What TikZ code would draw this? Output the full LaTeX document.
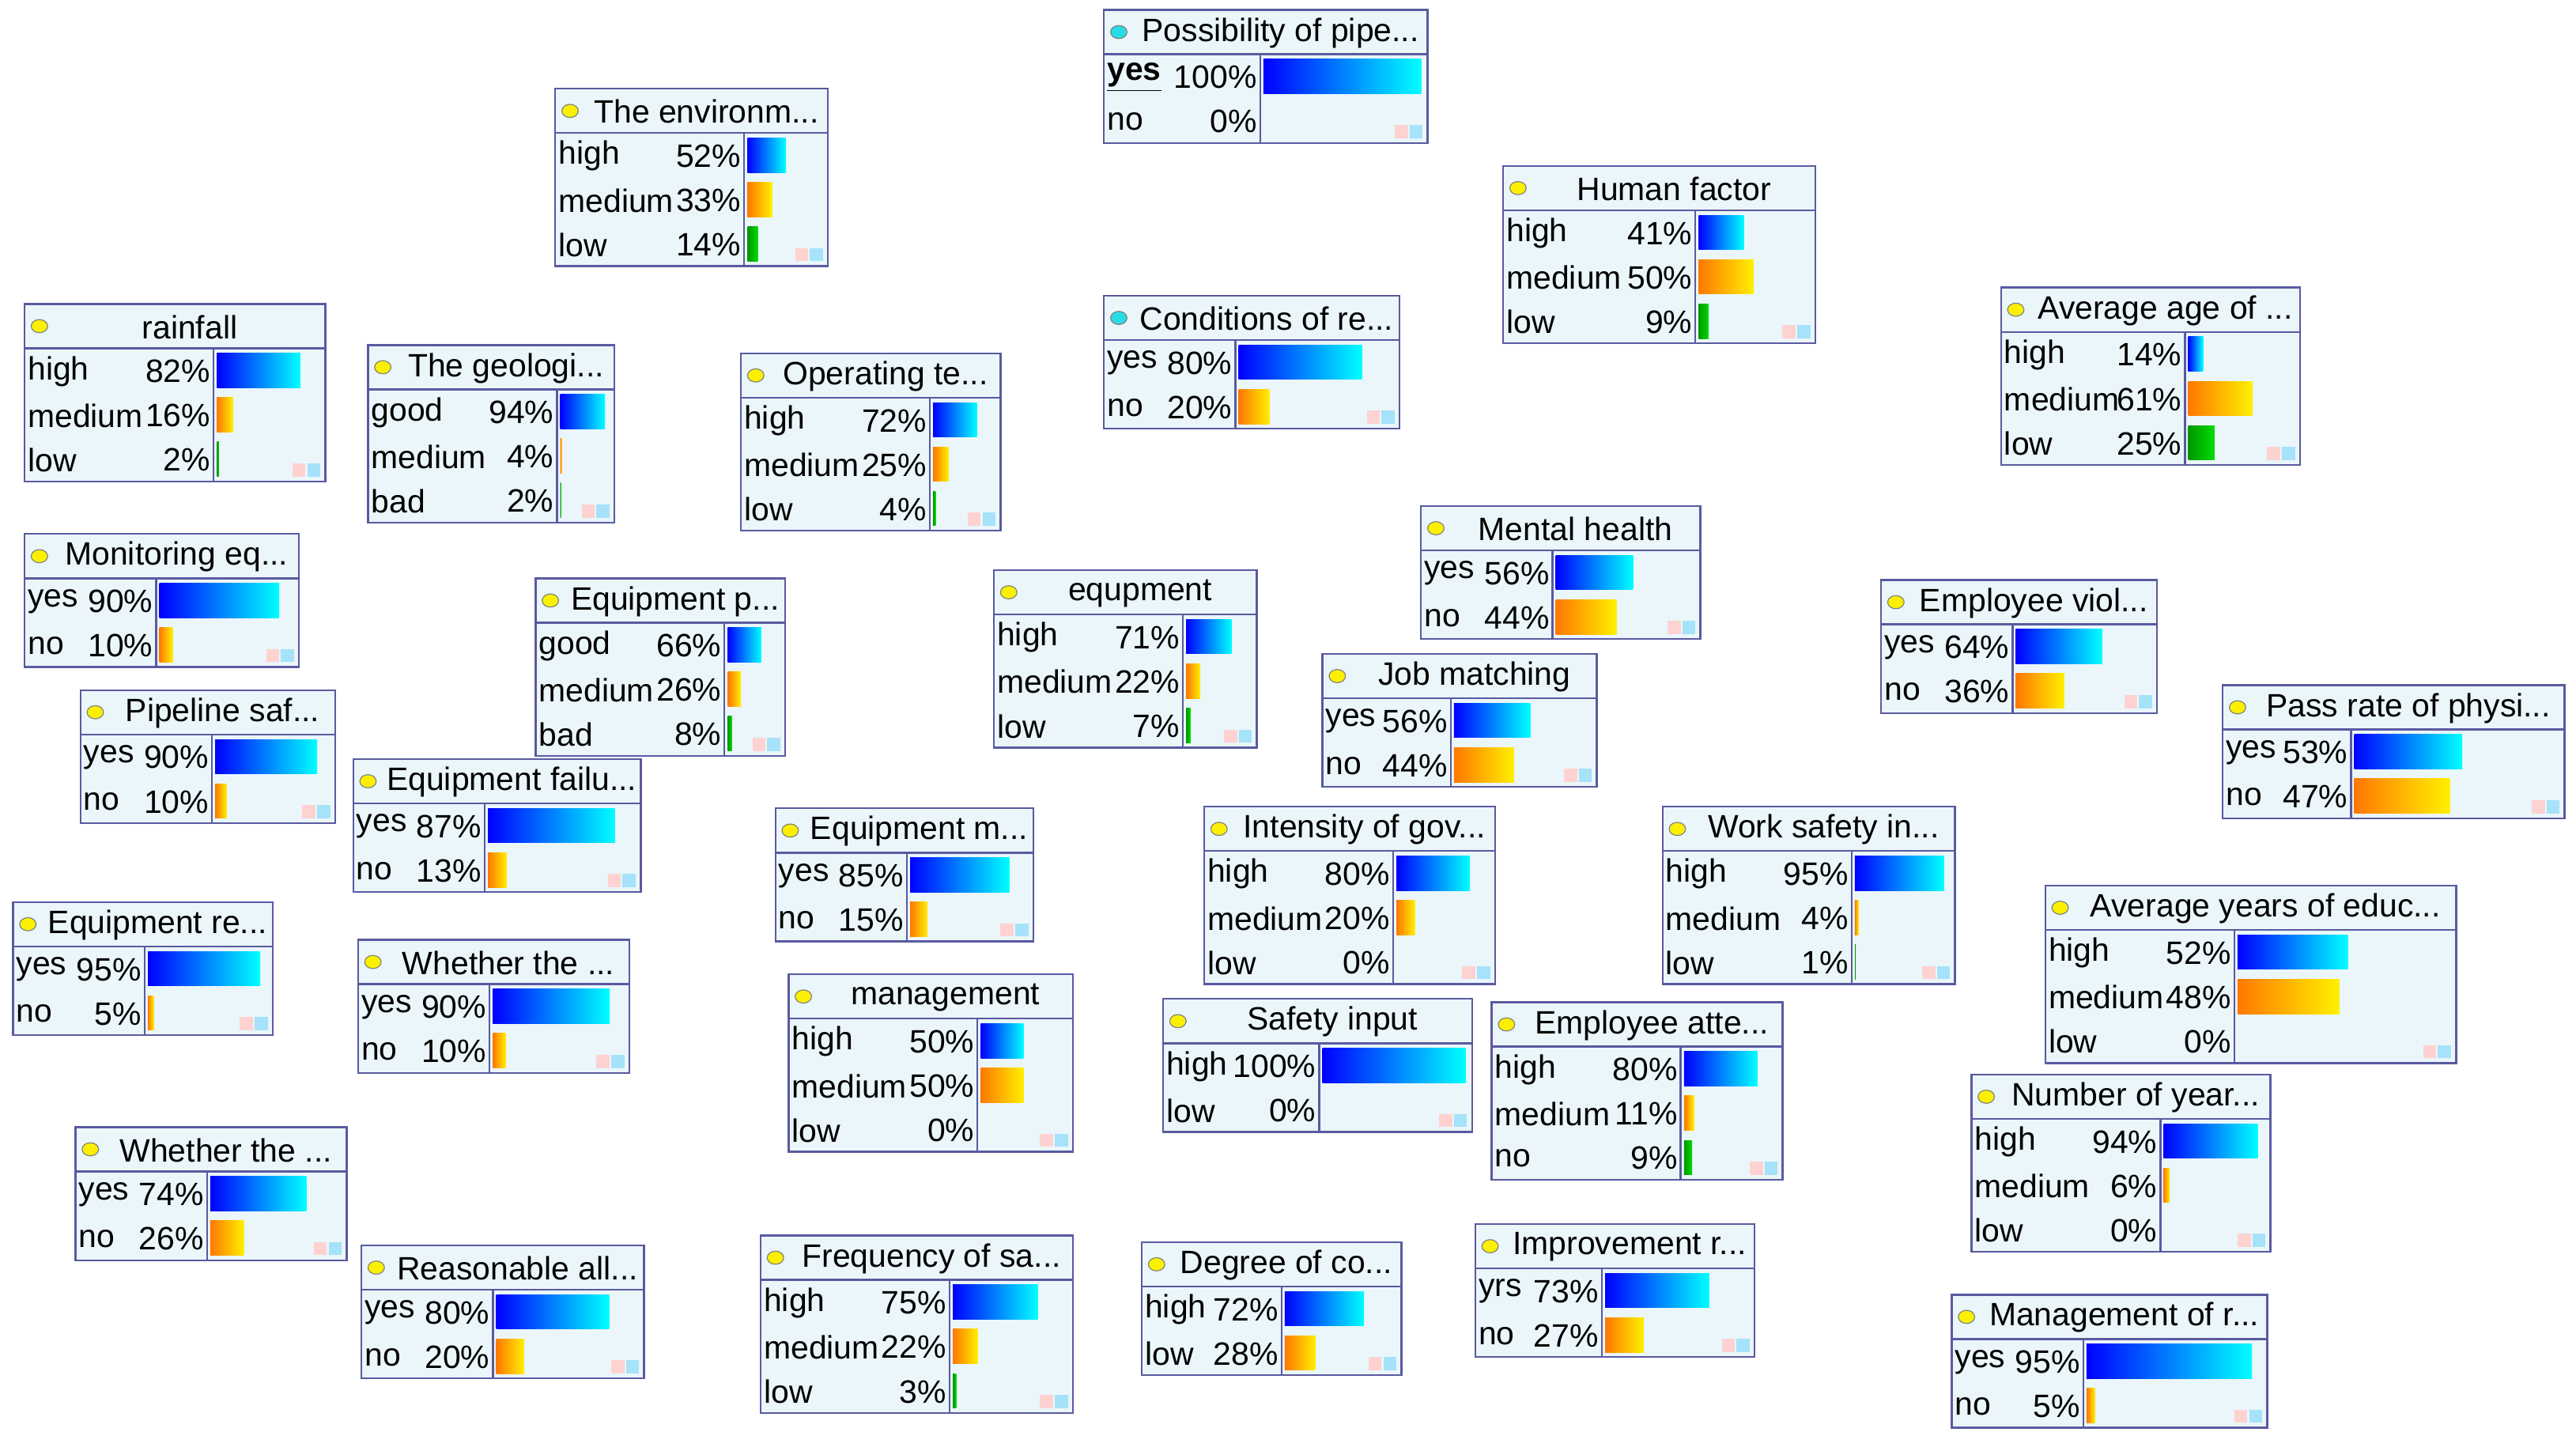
\documentclass[tikz,border=0pt]{standalone}
\usepackage{fontspec}
\setmainfont{Liberation Sans}
\usetikzlibrary{arrows.meta}
\definecolor{boxfill}{RGB}{234,246,250}
\definecolor{boxline}{RGB}{90,90,160}
\definecolor{edgecol}{RGB}{30,30,110}
\definecolor{dotyel}{RGB}{250,240,0}
\definecolor{dotcy}{RGB}{40,220,230}
\pgfdeclarelayer{bg}\pgfsetlayers{bg,main}
\tikzset{
  every node/.style={font=\fontsize{14}{16}\selectfont, inner sep=0pt, outer sep=0pt},
  box/.style={draw=boxline, fill=boxfill, line width=0.8pt},
  sep/.style={draw=boxline, line width=0.8pt},
  barb/.style={left color=blue, right color=cyan},
  baro/.style={left color={rgb,255:red,255;green,120;blue,0}, right color={rgb,255:red,255;green,240;blue,0}},
  barg/.style={left color={rgb,255:red,0;green,150;blue,0}, right color={rgb,255:red,0;green,220;blue,0}},
  edge/.style={draw=edgecol, line width=0.9pt, -{Latex[length=9pt,width=6pt]}},
}
\newcommand\nd[3]{([shift={(#2,#3)}]#1.north west)}
% name x y w split title dot rows nrows
\newcommand\bnbox[9]{%
  \pgfmathsetmacro\bh{27*(#9+1)}%
  \node[box, minimum width=#4*0.025cm, minimum height=\bh*0.025cm, anchor=north west] (#1) at (#2,#3) {};
  \draw[sep] (#2,#3+27) -- (#2+#4,#3+27);
  \draw[sep] (#2+#5,#3+27) -- (#2+#5,#3+\bh);
  \filldraw[fill=#7, draw=black!50, line width=0.4pt] (#2+9,#3+13.5) ellipse[x radius=5, y radius=4];
  \node at ({#2+18+(#4-18)/2}, #3+14) {#6};
  \foreach \lab/\pc/\col [count=\i] in {#8} {
    \pgfmathsetmacro\ry{#3+27*\i}
    \node[anchor=west] at (#2+2, \ry+14) {\lab};
    \node[anchor=east] at (#2+#5-2, \ry+14) {\pc\%};
    \ifdim\pc pt>0pt \shade[bar\col] (#2+#5+2, \ry+3) rectangle ++({\pc/100*(#4-#5-6)}, 21);\fi
  }
  \fill[pink!70] (#2+#4-20, #3+\bh-11) rectangle ++(8,8);
  \fill[cyan!35] (#2+#4-11, #3+\bh-11) rectangle ++(8,8);
}
\begin{document}
\begin{tikzpicture}[x=0.025cm, y=-0.025cm]
\useasboundingbox[fill=white] (0,0) rectangle (1568,883);
\bnbox{poss}{672}{6}{197}{95}{Possibility of pipe...}{dotcy}{{\underline{\textbf{yes}}}/100/b, no/0/o}{2}
\bnbox{env}{338}{54}{166}{115}{The environm...}{dotyel}{high/52/b, medium/33/o, low/14/g}{3}
\bnbox{hf}{915}{101}{190}{117}{Human factor}{dotyel}{high/41/b, medium/50/o, low/9/g}{3}
\bnbox{cond}{672}{180}{180}{80}{Conditions of re...}{dotcy}{yes/80/b, no/20/o}{2}
\bnbox{age}{1218}{175}{182}{112}{Average age of ...}{dotyel}{high/14/b, medium/61/o, low/25/g}{3}
\bnbox{rain}{15}{185}{183}{115}{rainfall}{dotyel}{high/82/b, medium/16/o, low/2/g}{3}
\bnbox{geo}{224}{210}{150}{115}{The geologi...}{dotyel}{good/94/b, medium/4/o, bad/2/g}{3}
\bnbox{oper}{451}{215}{158}{115}{Operating te...}{dotyel}{high/72/b, medium/25/o, low/4/g}{3}
\bnbox{mon}{15}{325}{167}{80}{Monitoring eq...}{dotyel}{yes/90/b, no/10/o}{2}
\bnbox{equp}{326}{352}{152}{115}{Equipment p...}{dotyel}{good/66/b, medium/26/o, bad/8/g}{3}
\bnbox{eqm}{605}{347}{160}{115}{equpment}{dotyel}{high/71/b, medium/22/o, low/7/g}{3}
\bnbox{mental}{865}{308}{170}{80}{Mental health}{dotyel}{yes/56/b, no/44/o}{2}
\bnbox{viol}{1145}{353}{168}{80}{Employee viol...}{dotyel}{yes/64/b, no/36/o}{2}
\bnbox{job}{805}{398}{167}{78}{Job matching}{dotyel}{yes/56/b, no/44/o}{2}
\bnbox{pass}{1353}{417}{208}{78}{Pass rate of physi...}{dotyel}{yes/53/b, no/47/o}{2}
\bnbox{pipe}{49}{420}{155}{80}{Pipeline saf...}{dotyel}{yes/90/b, no/10/o}{2}
\bnbox{efail}{215}{462}{175}{80}{Equipment failu...}{dotyel}{yes/87/b, no/13/o}{2}
\bnbox{emaint}{472}{492}{157}{80}{Equipment m...}{dotyel}{yes/85/b, no/15/o}{2}
\bnbox{intens}{733}{491}{177}{115}{Intensity of gov...}{dotyel}{high/80/b, medium/20/o, low/0/g}{3}
\bnbox{wsafe}{1012}{491}{178}{115}{Work safety in...}{dotyel}{high/95/b, medium/4/o, low/1/g}{3}
\bnbox{avgedu}{1245}{539}{250}{115}{Average years of educ...}{dotyel}{high/52/b, medium/48/o, low/0/g}{3}
\bnbox{erepl}{8}{549}{158}{80}{Equipment re...}{dotyel}{yes/95/b, no/5/o}{2}
\bnbox{whetherA}{218}{572}{165}{80}{Whether the ...}{dotyel}{yes/90/b, no/10/o}{2}
\bnbox{mgmt}{480}{593}{173}{115}{management}{dotyel}{high/50/b, medium/50/o, low/0/g}{3}
\bnbox{sinput}{708}{608}{188}{95}{Safety input}{dotyel}{high/100/b, low/0/o}{2}
\bnbox{eatt}{908}{610}{177}{115}{Employee atte...}{dotyel}{high/80/b, medium/11/o, no/9/g}{3}
\bnbox{numyear}{1200}{654}{182}{115}{Number of year...}{dotyel}{high/94/b, medium/6/o, low/0/g}{3}
\bnbox{whetherB}{46}{686}{165}{80}{Whether the ...}{dotyel}{yes/74/b, no/26/o}{2}
\bnbox{reason}{220}{758}{172}{80}{Reasonable all...}{dotyel}{yes/80/b, no/20/o}{2}
\bnbox{freq}{463}{752}{190}{115}{Frequency of sa...}{dotyel}{high/75/b, medium/22/o, low/3/g}{3}
\bnbox{degree}{695}{756}{158}{85}{Degree of co...}{dotyel}{high/72/b, low/28/o}{2}
\bnbox{improv}{898}{745}{170}{77}{Improvement r...}{dotyel}{yrs/73/b, no/27/o}{2}
\bnbox{mgmtr}{1188}{788}{192}{80}{Management of r...}{dotyel}{yes/95/b, no/5/o}{2}
\begin{pgfonlayer}{bg}
\draw[edge] \nd{env}{166}{38} -- \nd{poss}{0}{60};
\draw[edge] \nd{hf}{0}{9} -- \nd{poss}{190}{81};
\draw[edge] \nd{eqm}{63}{0} -- \nd{poss}{76}{81};
\draw[edge] \nd{eqm}{92}{0} -- \nd{poss}{85}{81};
\draw[edge] \nd{cond}{180}{17} -- \nd{hf}{0}{81};
\draw[edge] \nd{age}{0}{30} -- \nd{hf}{190}{79};
\draw[edge] \nd{rain}{183}{15} -- \nd{env}{0}{89};
\draw[edge] \nd{geo}{116}{0} -- \nd{env}{42}{108};
\draw[edge] \nd{oper}{39}{0} -- \nd{env}{122}{108};
\draw[edge] \nd{mon}{167}{45} -- \nd{eqm}{0}{48};
\draw[edge] \nd{equp}{152}{50} -- \nd{eqm}{0}{54};
\draw[edge] \nd{pipe}{155}{23} -- \nd{equp}{0}{70};
\draw[edge] \nd{efail}{175}{53} -- \nd{emaint}{0}{31};
\draw[edge] \nd{erepl}{158}{11} -- \nd{efail}{0}{78};
\draw[edge] \nd{emaint}{120}{0} -- \nd{eqm}{23}{108};
\draw[edge] \nd{mgmt}{105}{0} -- \nd{eqm}{26}{108};
\draw[edge] \nd{intens}{0}{89} -- \nd{mgmt}{173}{17};
\draw[edge] \nd{whetherA}{165}{52} -- \nd{mgmt}{0}{41};
\draw[edge] \nd{sinput}{0}{40} -- \nd{mgmt}{173}{55};
\draw[edge] \nd{whetherB}{165}{24} -- \nd{mgmt}{0}{70};
\draw[edge] \nd{reason}{160}{0} -- \nd{mgmt}{0}{106};
\draw[edge] \nd{freq}{100}{0} -- \nd{mgmt}{83}{108};
\draw[edge] \nd{degree}{18}{0} -- \nd{mgmt}{160}{108};
\draw[edge] \nd{improv}{0}{15} -- \nd{mgmt}{173}{87};
\draw[edge] \nd{mgmtr}{0}{27} -- \nd{improv}{170}{55};
\draw[edge] \nd{mental}{98}{0} -- \nd{hf}{74}{108};
\draw[edge] \nd{job}{104}{0} -- \nd{hf}{69}{108};
\draw[edge] \nd{eatt}{92}{0} -- \nd{hf}{91}{108};
\draw[edge] \nd{wsafe}{76}{0} -- \nd{hf}{109}{108};
\draw[edge] \nd{numyear}{60}{0} -- \nd{hf}{125}{108};
\draw[edge] \nd{viol}{47}{0} -- \nd{hf}{148}{108};
\draw[edge] \nd{pass}{45}{0} -- \nd{hf}{179}{108};
\draw[edge] \nd{age}{0}{85} -- \nd{mental}{170}{10};
\draw[edge] \nd{mental}{170}{55} -- \nd{viol}{0}{25};
\draw[edge] \nd{age}{0}{91} -- \nd{job}{165}{0};
\draw[edge] \nd{age}{128}{108} -- \nd{pass}{74}{0};
\draw[edge] \nd{age}{99}{108} -- \nd{avgedu}{110}{0};
\end{pgfonlayer}
\end{tikzpicture}
\end{document}
